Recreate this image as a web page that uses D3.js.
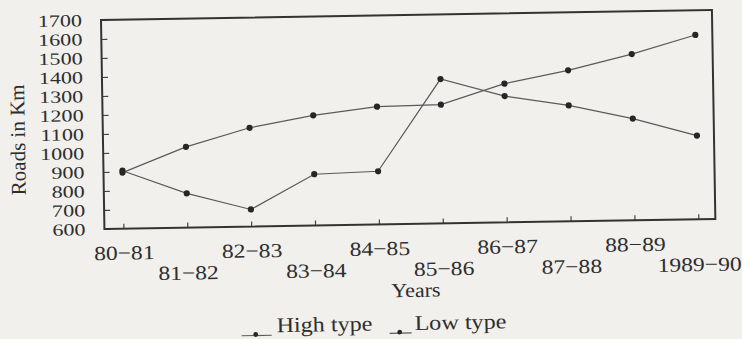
<!DOCTYPE html>
<html>
<head>
<meta charset="utf-8">
<script src="https://cdn.jsdelivr.net/npm/d3@7/dist/d3.min.js"></script>
<style>
  body { margin: 0; background: #f1f0ec; }
  svg { display: block; }
  text { font-family: "Liberation Serif", "Times New Roman", serif; fill: #2e2e2e; }
</style>
</head>
<body>
<svg width="742" height="339"></svg>
<script>
var years = ["80\u221281", "81\u221282", "82\u221283", "83\u221284", "84\u221285",
             "85\u221286", "86\u221287", "87\u221288", "88\u221289", "1989\u221290"];
var highType = [895, 1025, 1120, 1180, 1220, 1225, 1330, 1395, 1475, 1570];
var lowType  = [905, 780, 690, 870, 880, 1360, 1265, 1210, 1135, 1040];
var yTicks = [600, 700, 800, 900, 1000, 1100, 1200, 1300, 1400, 1500, 1600, 1700];

var svg = d3.select("svg"),
    margin = {top: 20, left: 101},
    width = 611,
    height = 209;

// the printed type in the scan is a bit wider than Times, so stretch it sideways
function stretch(sel, s) {
  sel.each(function() {
    var t = d3.select(this);
    t.attr("x", (+t.attr("x") || 0) / s).attr("transform", "scale(" + s + ",1)");
  });
}

// the scan is slightly tilted, so the whole drawing is turned a little
var g = svg.append("g")
    .attr("transform", "translate(" + margin.left + "," + margin.top + ") rotate(-0.94)");

var x = d3.scalePoint().domain(years).range([19, width - 17]),
    y = d3.scaleLinear().domain([600, 1700]).range([height, 0]);

// y axis: ticks inside the frame, labels outside
var yAxis = g.append("g")
    .call(d3.axisLeft(y).tickValues(yTicks).tickFormat(d3.format("d"))
      .tickSizeInner(-6).tickSizeOuter(0).tickPadding(19));
yAxis.select(".domain").remove();
yAxis.selectAll("line").attr("stroke", "#444").attr("stroke-width", 1.2);
yAxis.selectAll("text")
    .attr("font-size", 17)
    .attr("fill", "#2e2e2e")
    .call(stretch, 1.3);

// x axis: small ticks pointing up, labels staggered on two rows
var xAxis = g.append("g")
    .attr("transform", "translate(0," + height + ")")
    .call(d3.axisBottom(x).tickSizeInner(-5).tickSizeOuter(0).tickPadding(0));
xAxis.select(".domain").remove();
xAxis.selectAll("line").attr("stroke", "#444").attr("stroke-width", 1.2);
xAxis.selectAll("text")
    .attr("font-size", 20)
    .attr("fill", "#2e2e2e")
    .attr("dy", null)
    .attr("y", function(d, i) { return i % 2 === 0 ? 31 : 52; })
    .call(stretch, 1.18);

// frame
g.append("rect")
    .attr("width", width)
    .attr("height", height)
    .attr("fill", "none")
    .attr("stroke", "#333")
    .attr("stroke-width", 2);

var line = d3.line()
    .x(function(d, i) { return x(years[i]); })
    .y(function(d) { return y(d); });

[highType, lowType].forEach(function(series) {
  g.append("path")
      .datum(series)
      .attr("fill", "none")
      .attr("stroke", "#5a5a5a")
      .attr("stroke-width", 1.2)
      .attr("d", line);

  g.selectAll(null)
      .data(series)
    .enter().append("circle")
      .attr("cx", function(d, i) { return x(years[i]); })
      .attr("cy", function(d) { return y(d); })
      .attr("r", 3.1)
      .attr("fill", "#262626");
});

// axis titles
g.append("text")
    .attr("transform", "translate(-78," + (height / 2 + 14) + ") rotate(-90)")
    .attr("text-anchor", "middle")
    .attr("font-size", 21)
    .text("Roads in Km");

g.append("text")
    .attr("transform", "translate(" + (width / 2 + 5) + "," + (height + 73) + ") scale(1.1,1)")
    .attr("text-anchor", "middle")
    .attr("font-size", 20)
    .text("Years");

// legend
var legend = g.append("g")
    .attr("transform", "translate(" + (width / 2 - 170) + "," + (height + 106) + ")");

var items = [{label: "High type", x0: 0, w: 30, tx: 35},
             {label: "Low type", x0: 148, w: 22, tx: 173}];

items.forEach(function(it) {
  legend.append("line")
      .attr("x1", it.x0).attr("x2", it.x0 + it.w)
      .attr("y1", 3).attr("y2", 3)
      .attr("stroke", "#5a5a5a").attr("stroke-width", 1.2);
  legend.append("circle")
      .attr("cx", it.x0 + it.w / 2 - 1).attr("cy", 2)
      .attr("r", 2.4).attr("fill", "#262626");
  legend.append("text")
      .attr("transform", "translate(" + it.tx + ",0) scale(1.15,1)")
      .attr("font-size", 21)
      .text(it.label);
});
</script>
</body>
</html>
